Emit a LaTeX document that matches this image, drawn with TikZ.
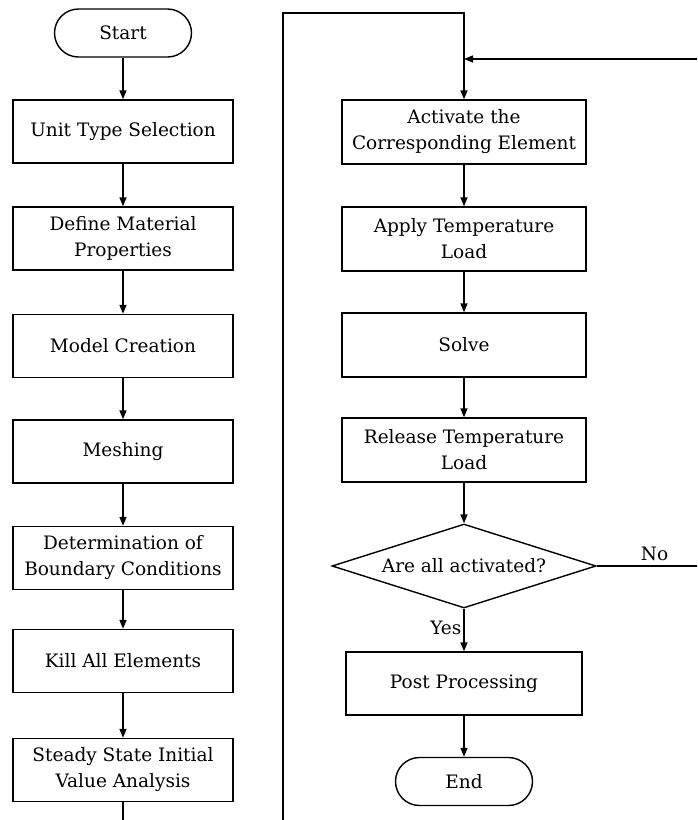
\documentclass[tikz,border=0pt]{standalone}
\usepackage{fontspec}
\setmainfont{DejaVu Serif}
\usetikzlibrary{arrows.meta,shapes.geometric,positioning}
\begin{document}
\begin{tikzpicture}[x=1pt,y=-1pt,
  font=\fontsize{18.5}{26}\selectfont,
  line width=1.4pt,
  arr/.style={-{Triangle[length=9pt,width=7pt]}},
  lbox/.style={draw,rectangle,minimum width=220pt,minimum height=63pt,align=center,inner sep=2pt},
  rbox/.style={draw,rectangle,minimum width=244pt,minimum height=64pt,align=center,inner sep=2pt},
  term/.style={draw,rounded corners=24pt,minimum width=137pt,minimum height=48pt,inner sep=2pt},
  dec/.style={draw,diamond,aspect=3.15,minimum width=264pt,minimum height=84pt,inner sep=0pt}
]
\useasboundingbox (0,0) rectangle (697,820);
\clip (0,0) rectangle (697,820);
% left column
\node[term] (start) at (123,33) {Start};
\node[lbox] (unit) at (123,131.5) {Unit Type Selection};
\node[lbox] (mat) at (123,238.5) {Define Material\\Properties};
\node[lbox] (model) at (123,346) {Model Creation};
\node[lbox] (mesh) at (123,451.5) {Meshing};
\node[lbox] (bc) at (123,558) {Determination of\\Boundary Conditions};
\node[lbox] (kill) at (123,661) {Kill All Elements};
\node[lbox] (steady) at (123,770) {Steady State Initial\\Value Analysis};
% right column
\node[rbox] (act) at (464,132) {Activate the\\Corresponding Element};
\node[rbox] (apply) at (464,239) {Apply Temperature\\Load};
\node[rbox] (solve) at (464,345) {Solve};
\node[rbox] (rel) at (464,450) {Release Temperature\\Load};
\node[dec] (dia) at (464,566) {Are all activated?};
\node[draw,rectangle,minimum width=236pt,minimum height=63pt,inner sep=2pt] (post) at (464,683.5) {Post Processing};
\node[term] (end) at (464,781.5) {End};
% helper coordinates
\coordinate (b1) at (123,840);
\coordinate (b2) at (283,840);
\coordinate (t1) at (283,13);
\coordinate (t2) at (464,13);
\coordinate (r1) at (702,566);
\coordinate (r2) at (702,59);
\coordinate (j) at (464,59);
% connectors
\draw[arr] (start) -- (unit);
\draw[arr] (unit) -- (mat);
\draw[arr] (mat) -- (model);
\draw[arr] (model) -- (mesh);
\draw[arr] (mesh) -- (bc);
\draw[arr] (bc) -- (kill);
\draw[arr] (kill) -- (steady);
\draw[arr] (steady.south) -- (b1) -- (b2) -- (t1) -- (t2) -- (act.north);
\draw[arr] (act) -- (apply);
\draw[arr] (apply) -- (solve);
\draw[arr] (solve) -- (rel);
\draw[arr] (rel) -- (dia);
\draw[arr] (dia.south) -- node[left,pos=0.45,inner sep=2pt] {Yes} (post.north);
\draw[arr] (dia.east) -- node[above,pos=0.55,inner sep=5pt] {No} (r1) -- (r2) -- (j);
\draw[arr] (post) -- (end);
\end{tikzpicture}
\end{document}
